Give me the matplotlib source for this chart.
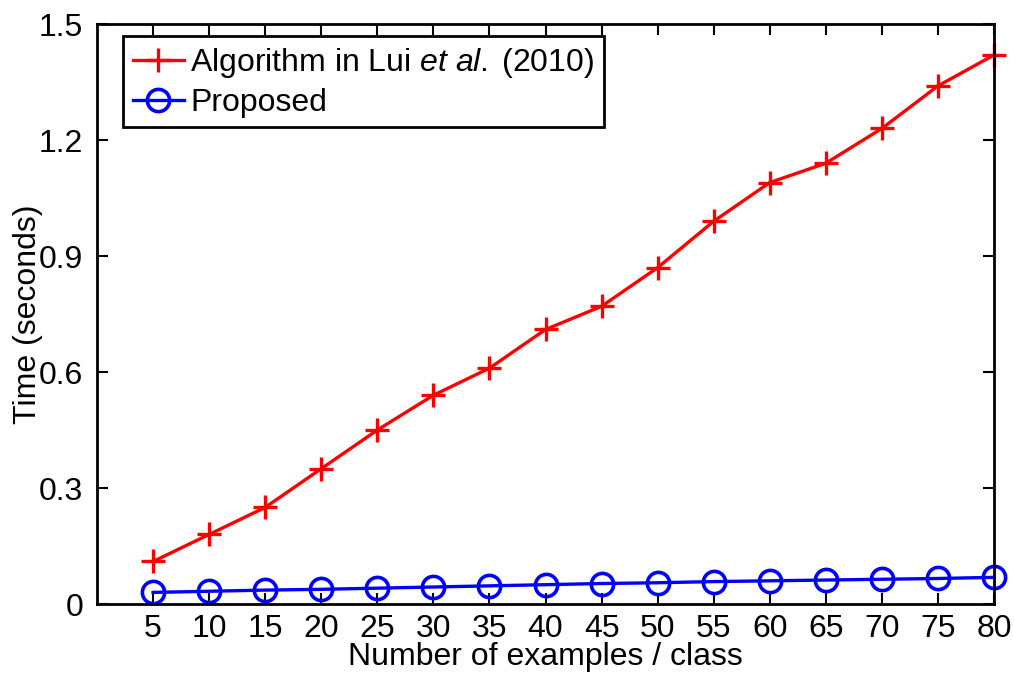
import matplotlib.pyplot as plt

plt.rcParams["font.family"] = ["Liberation Sans", "DejaVu Sans"]
plt.rcParams["mathtext.fontset"] = "custom"
plt.rcParams["mathtext.rm"] = "Liberation Sans"
plt.rcParams["mathtext.it"] = "Liberation Sans:italic"

examples = [5, 10, 15, 20, 25, 30, 35, 40, 45, 50, 55, 60, 65, 70, 75, 80]
time_lui = [0.11, 0.18, 0.25, 0.35, 0.45, 0.54, 0.61, 0.71, 0.77, 0.87,
            0.99, 1.09, 1.14, 1.23, 1.34, 1.42]
time_proposed = [0.030, 0.033, 0.036, 0.038, 0.041, 0.044, 0.047, 0.050,
                 0.053, 0.055, 0.058, 0.060, 0.062, 0.064, 0.066, 0.069]
y_ticks = [0, 0.3, 0.6, 0.9, 1.2, 1.5]
y_labels = ["0", "0.3", "0.6", "0.9", "1.2", "1.5"]

fig = plt.figure(figsize=(10.14, 6.73), dpi=100)
ax = fig.add_axes([0.0957, 0.1025, 0.8846, 0.8618])

ax.plot(examples, time_lui, color="red", marker="+", markersize=17,
        markeredgewidth=2.4, linewidth=2.4,
        label=r"Algorithm in Lui $\mathit{et\ al.}\;$(2010)", clip_on=False)
ax.plot(examples, time_proposed, color="blue", marker="o", markersize=16,
        markerfacecolor="none", markeredgewidth=2.6, linewidth=2.4,
        label="Proposed", clip_on=False)

ax.set_xlim(0, 80)
ax.set_ylim(0, 1.5)
ax.set_xticks(examples)
ax.set_yticks(y_ticks)
ax.set_yticklabels(y_labels)
ax.tick_params(direction="in", length=8, width=1.5, labelsize=23,
               top=True, right=True, pad=10)
ax.tick_params(axis="x", pad=7)
for spine in ax.spines.values():
    spine.set_linewidth(2)

ax.set_xlabel("Number of examples / class", fontsize=23, labelpad=-1)
ax.set_ylabel("Time (seconds)", fontsize=23, labelpad=-3)

leg = ax.legend(loc="upper left", bbox_to_anchor=(0.029, 0.979),
                fontsize=23, frameon=True, fancybox=False, framealpha=1,
                edgecolor="black", handlelength=1.6, handletextpad=0.2,
                borderpad=0.3, labelspacing=0.25, borderaxespad=0)
leg.get_frame().set_linewidth(2)

fig.savefig("out.png", dpi=100)
